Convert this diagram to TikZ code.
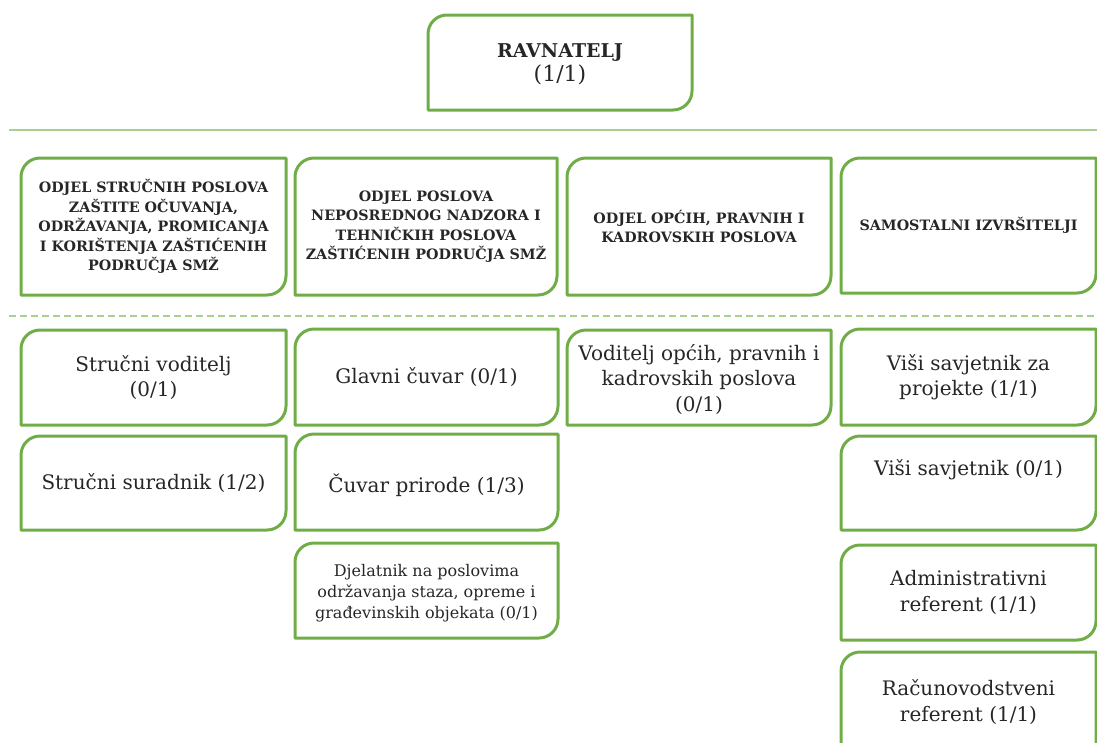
\documentclass[tikz,border=0pt]{standalone}
\usepackage{fontspec}
\setmainfont{DejaVu Serif}
\definecolor{boxgreen}{HTML}{70AD47}
\definecolor{linegreen}{HTML}{A9D18E}
\tikzset{
  boxline/.style={draw=boxgreen, line width=3pt, line join=round},
  txt/.style={inner sep=0pt, outer sep=0pt, align=center, text=black!85},
  chief/.style={txt, font=\fontsize{22}{24}\selectfont},
  head/.style={txt, font=\fontsize{14.3}{19.5}\selectfont\bfseries},
  role/.style={txt, font=\fontsize{20}{25.5}\selectfont},
  small/.style={txt, font=\fontsize{16}{21}\selectfont},
  topline/.style={draw=linegreen, line width=2pt},
  midline/.style={draw=linegreen, line width=2pt, dash pattern=on 7pt off 4pt},
}
% #1 text y offset, #2 style, #3 name, #4 x1, #5 y1, #6 x2, #7 y2, #8 text
\newcommand\orgbox[8][0]{%
  \draw[boxline] (#4,#7) -- (#4,#5+19) .. controls (#4,#5+8.5) and (#4+8.5,#5) .. (#4+19,#5)
    -- (#6,#5) -- (#6,#7-19) .. controls (#6,#7-8.5) and (#6-8.5,#7) .. (#6-19,#7) -- cycle;
  \node[#2] (#3) at ({(#4+#6)/2},{(#5+#7)/2+#1}) {#8};}
\begin{document}
\begin{tikzpicture}[x=1pt,y=-1pt]
\useasboundingbox (0,0) rectangle (1097,742);
\clip (0,0) rectangle (1097,742);
\orgbox[2]{chief}{rav}{428}{15}{692}{110}{{\fontsize{19}{24}\selectfont\bfseries RAVNATELJ}\\(1/1)}
\draw[topline] (9,130) -- (1097,130);
\orgbox{head}{h1}{21}{158}{286}{295}{ODJEL STRUČNIH POSLOVA\\ZAŠTITE OČUVANJA,\\ODRŽAVANJA, PROMICANJA\\I KORIŠTENJA ZAŠTIĆENIH\\PODRUČJA SMŽ}
\orgbox{head}{h2}{295}{158}{557}{295}{ODJEL POSLOVA\\NEPOSREDNOG NADZORA I\\TEHNIČKIH POSLOVA\\ZAŠTIĆENIH PODRUČJA SMŽ}
\orgbox{head}{h3}{567}{158}{831}{295}{ODJEL OPĆIH, PRAVNIH I\\KADROVSKIH POSLOVA}
\orgbox{head}{h4}{841}{158}{1096}{293}{SAMOSTALNI IZVRŠITELJI}
\draw[midline] (9,316) -- (1097,316);
\orgbox{role}{a1}{21}{330}{286}{425}{Stručni voditelj\\(0/1)}
\orgbox{role}{a2}{295}{329}{558}{425}{Glavni čuvar (0/1)}
\orgbox[2]{role}{a3}{567}{330}{831}{425}{Voditelj općih, pravnih i\\kadrovskih poslova\\(0/1)}
\orgbox{role}{a4}{841}{329}{1096}{425}{Viši savjetnik za\\projekte (1/1)}
\orgbox{role}{b1}{21}{436}{286}{530}{Stručni suradnik (1/2)}
\orgbox[3]{role}{b2}{295}{434}{558}{530}{Čuvar prirode (1/3)}
\orgbox[-13]{role}{b4}{841}{436}{1096}{530}{Viši savjetnik (0/1)}
\orgbox[3]{small}{c2}{295}{543}{558}{638}{Djelatnik na poslovima\\održavanja staza, opreme i\\građevinskih objekata (0/1)}
\orgbox{role}{c4}{841}{545}{1096}{640}{Administrativni\\referent (1/1)}
\orgbox[-49]{role}{d4}{841}{652}{1096}{850}{Računovodstveni\\referent (1/1)}
\end{tikzpicture}
\end{document}
